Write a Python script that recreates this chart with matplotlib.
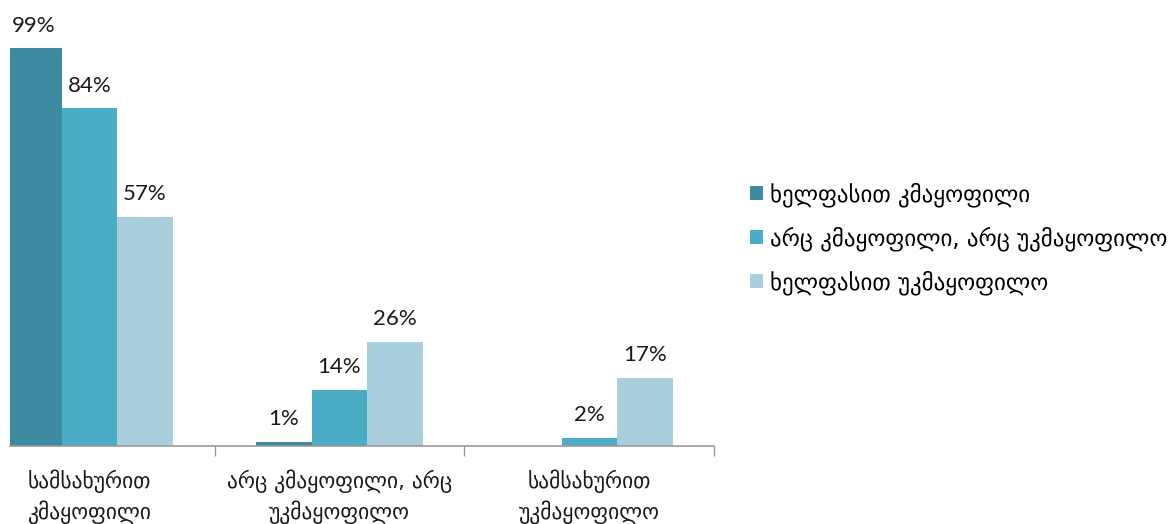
import matplotlib
matplotlib.use("Agg")
import matplotlib.pyplot as plt
import numpy as np

categories = ["სამსახურით\nკმაყოფილი", "არც კმაყოფილი, არც\nუკმაყოფილო", "სამსახურით\nუკმაყოფილო"]
series_names = ["ხელფასით კმაყოფილი", "არც კმაყოფილი, არც უკმაყოფილო", "ხელფასით უკმაყოფილო"]
series_values = [
    [99, 1, 0],
    [84, 14, 2],
    [57, 26, 17],
]
colors = ["#3C8BA0", "#4BACC6", "#A9CFDD"]

W, H = 1169, 524
fig = plt.figure(figsize=(W / 100, H / 100), dpi=100)
# category spacing 250 px, category 1 centred at px 339.5; axes starts at px 10
cat_px = 250.0
c0_px = 89.5
left_px, right_px = 10, 714.5
x_left = (left_px - c0_px) / cat_px
x_right = (right_px - c0_px) / cat_px
bottom_px_from_top = 446
top_px_from_top = 4
ax = fig.add_axes([left_px / W, (H - bottom_px_from_top) / H,
                   (right_px - left_px) / W, (bottom_px_from_top - top_px_from_top) / H])

x = np.arange(len(categories))
bw = 0.222
label_font = ["Lato", "DejaVu Sans"]
for i, (name, vals, c) in enumerate(zip(series_names, series_values, colors)):
    pos = x + (i - 1) * bw
    ax.bar(pos, vals, width=bw, color=c, label=name, edgecolor="none")
    for p, v in zip(pos, vals):
        if v > 0:
            ax.annotate(f"{v}%", (p, v), xytext=(0, 9), textcoords="offset points",
                        ha="center", va="bottom", fontsize=16, family=label_font,
                        color="#1a1a1a")

ax.set_xlim(x_left, x_right)
ax.set_ylim(0, 110)
for s in ["left", "right", "top"]:
    ax.spines[s].set_visible(False)
ax.spines["bottom"].set_color("#9a9a9a")
ax.spines["bottom"].set_linewidth(1.2)
ax.set_yticks([])
ax.set_xticks([0.5, 1.5, 2.5])
ax.set_xticklabels([])
ax.tick_params(axis="x", which="major", length=7, width=1, color="#9a9a9a", direction="out")
ax.set_xticks(x, minor=True)
ax.set_xticklabels(categories, minor=True, fontsize=15.5, family=["DejaVu Sans"],
                   linespacing=1.4, color="#1a1a1a")
ax.tick_params(axis="x", which="minor", length=0, pad=17)

handles, labels = ax.get_legend_handles_labels()
fig.legend(handles, labels, loc="center left", bbox_to_anchor=(741 / W, 1 - 238.5 / H),
           frameon=False, fontsize=16.5, handlelength=0.55, handleheight=0.55,
           handletextpad=0.3, labelspacing=0.85, borderaxespad=0)

fig.savefig("out.png", dpi=100)
